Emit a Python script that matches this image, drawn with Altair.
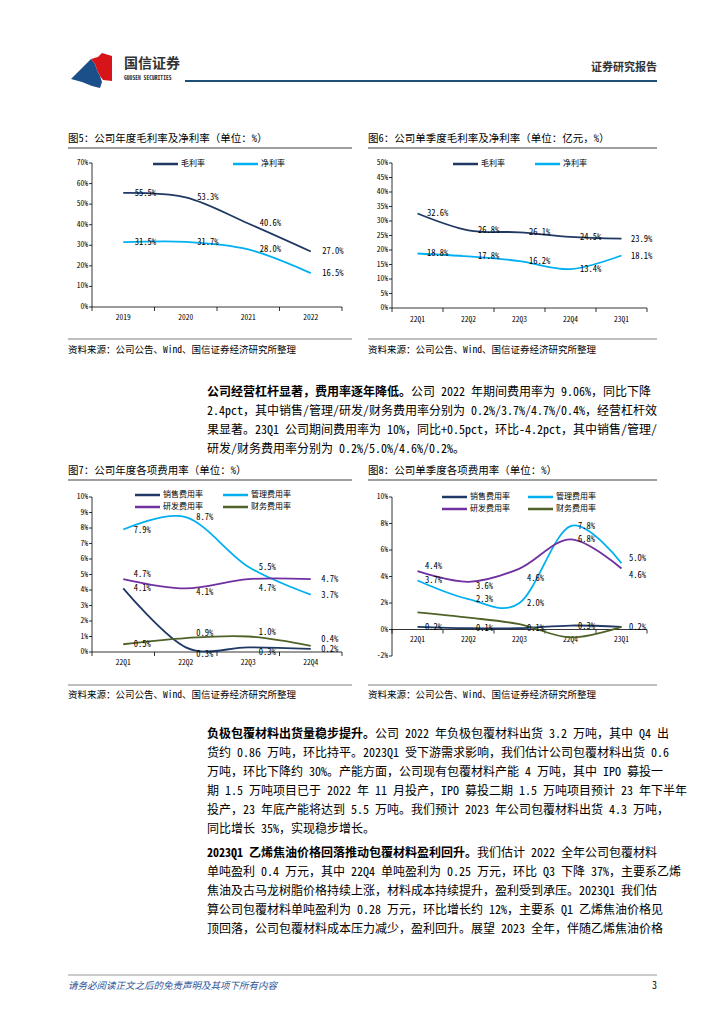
import altair as alt
import pandas as pd

FONT = "Noto Sans Mono CJK SC, Noto Sans CJK SC, sans-serif"
OFF = 8


def P(v):
    return v - OFF


# ---------------- data ----------------
years = ["2019", "2020", "2021", "2022"]
gross_annual = [55.5, 53.3, 40.6, 27.0]
net_annual = [31.5, 31.7, 28.0, 16.5]

quarters6 = ["22Q1", "22Q2", "22Q3", "22Q4", "23Q1"]
gross_q = [32.6, 26.8, 26.1, 24.5, 23.9]
net_q = [18.8, 17.8, 16.2, 13.4, 18.1]

cats7 = ["22Q1", "22Q2", "22Q3", "22Q4"]
sell7 = [4.1, 0.3, 0.3, 0.2]
admin7 = [7.9, 8.7, 5.5, 3.7]
rd7 = [4.7, 4.1, 4.7, 4.7]
fin7 = [0.5, 0.9, 1.0, 0.4]

cats8 = ["22Q1", "22Q2", "22Q3", "22Q4", "23Q1"]
sell8 = [0.2, 0.1, 0.1, 0.3, 0.2]
admin8 = [3.7, 2.3, 2.0, 7.8, 5.0]
rd8 = [4.4, 3.6, 4.6, 6.8, 4.6]
fin8 = [1.3, 0.9, 0.4, -0.6, 0.2]

margin_names = ["毛利率", "净利率"]
margin_colors = ["#1F3864", "#00B0F0"]
fee_names = ["销售费用率", "管理费用率", "研发费用率", "财务费用率"]
fee_colors = ["#1F3864", "#00B0F0", "#7030A0", "#4F6228"]

ticks5 = [0, 10, 20, 30, 40, 50, 60, 70]
ticks6 = [0, 5, 10, 15, 20, 25, 30, 35, 40, 45, 50]
ticks7 = [0, 1, 2, 3, 4, 5, 6, 7, 8, 9, 10]
ticks8 = [-2, 0, 2, 4, 6, 8, 10]

title5 = "图5：公司年度毛利率及净利率（单位：%）"
title6 = "图6：公司单季度毛利率及净利率（单位：亿元，%）"
title7 = "图7：公司年度各项费用率（单位：%）"
title8 = "图8：公司单季度各项费用率（单位：%）"
source = "资料来源：公司公告、Wind、国信证券经济研究所整理"

para1_bold = "公司经营杠杆显著，费用率逐年降低。"
para1 = [
    "公司 2022 年期间费用率为 9.06%，同比下降",
    "2.4pct，其中销售/管理/研发/财务费用率分别为 0.2%/3.7%/4.7%/0.4%，经营杠杆效",
    "果显著。23Q1 公司期间费用率为 10%，同比+0.5pct，环比-4.2pct，其中销售/管理/",
    "研发/财务费用率分别为 0.2%/5.0%/4.6%/0.2%。",
]
para2_bold = "负极包覆材料出货量稳步提升。"
para2 = [
    "公司 2022 年负极包覆材料出货 3.2 万吨，其中 Q4 出",
    "货约 0.86 万吨，环比持平。2023Q1 受下游需求影响，我们估计公司包覆材料出货 0.6",
    "万吨，环比下降约 30%。产能方面，公司现有包覆材料产能 4 万吨，其中 IPO 募投一",
    "期 1.5 万吨项目已于 2022 年 11 月投产，IPO 募投二期 1.5 万吨项目预计 23 年下半年",
    "投产，23 年底产能将达到 5.5 万吨。我们预计 2023 年公司包覆材料出货 4.3 万吨，",
    "同比增长 35%，实现稳步增长。",
]
para3_bold = "2023Q1 乙烯焦油价格回落推动包覆材料盈利回升。"
para3 = [
    "我们估计 2022 全年公司包覆材料",
    "单吨盈利 0.4 万元，其中 22Q4 单吨盈利为 0.25 万元，环比 Q3 下降 37%，主要系乙烯",
    "焦油及古马龙树脂价格持续上涨，材料成本持续提升，盈利受到承压。2023Q1 我们估",
    "算公司包覆材料单吨盈利为 0.28 万元，环比增长约 12%，主要系 Q1 乙烯焦油价格见",
    "顶回落，公司包覆材料成本压力减少，盈利回升。展望 2023 全年，伴随乙烯焦油价格",
]
footer = "请务必阅读正文之后的免责声明及其项下所有内容"

# label placement nudges (layout only, in axis units)
shift7 = {
    "销售费用率": [0, -0.4, -0.3, 0],
    "管理费用率": [0, 0, 0, 0],
    "研发费用率": [0.32, -0.2, -0.55, 0],
    "财务费用率": [0, 0.32, 0.3, 0.45],
}
shift8 = {
    "管理费用率": [0, 0, 0, 0, 0.38],
    "研发费用率": [0.38, -0.3, -0.75, 0, -0.5],
}

dummy = pd.DataFrame({"k": [0]})


def mono_w(s, fs):
    return sum(fs * (0.5 if ord(c) < 128 else 1.0) for c in s)


def txt(s, x, y, size, color="#000000", weight="normal", align="left", style="normal"):
    return alt.Chart(dummy).mark_text(
        text=s, align=align, baseline="middle", fontSize=size, font=FONT,
        color=color, fontWeight=weight, fontStyle=style
    ).encode(x=alt.value(P(x)), y=alt.value(P(y)))


def hrule(x1, x2, y, w, color):
    return alt.Chart(dummy).mark_rule(strokeWidth=w, color=color).encode(
        x=alt.value(P(x1)), x2=alt.value(P(x2)), y=alt.value(P(y))
    )


def figure(cats, series, names, colors, xr, yr, ydom, ticks, xlab_y, dx,
           labelled, legend_pos, axis_x, shifts=None):
    shifts = shifts or {}
    n = len(cats)
    xs = alt.Scale(domain=[-0.5, n - 0.5], range=[P(xr[0]), P(xr[1])], nice=False, zero=False)
    ys = alt.Scale(domain=list(ydom), range=[P(yr[0]), P(yr[1])], nice=False, zero=False)
    rows = []
    for name, vals in zip(names, series):
        sh = shifts.get(name, [0] * len(vals))
        for i, v in enumerate(vals):
            rows.append({"s": name, "i": i, "v": v, "sh": sh[i]})
    df = pd.DataFrame(rows)
    X = alt.X("i:Q", scale=xs, axis=None)
    Y = alt.Y("v:Q", scale=ys, axis=None)
    color = alt.Color("s:N", scale=alt.Scale(domain=names, range=colors), legend=None)

    lines = alt.Chart(df).mark_line(interpolate="cardinal", strokeWidth=1.8).encode(
        x=X, y=Y, color=color, detail="s:N"
    )
    labels = alt.Chart(df).transform_filter(
        alt.FieldOneOfPredicate(field="s", oneOf=labelled)
    ).transform_calculate(
        lab="format(datum.v, '.1f') + '%'", ly="datum.v + datum.sh"
    ).mark_text(dx=dx, fontSize=8.5, font=FONT, color="#000", baseline="middle").encode(
        x=X, y=alt.Y("ly:Q", scale=ys, axis=None), text="lab:N"
    )

    tdf = pd.DataFrame({"t": ticks})
    YT = alt.Y("t:Q", scale=ys, axis=None)
    ytl = alt.Chart(tdf).transform_calculate(lab="datum.t + '%'").mark_text(
        align="right", baseline="middle", fontSize=7.5, font=FONT, color="#000"
    ).encode(x=alt.value(P(axis_x - 4)), y=YT, text="lab:N")
    ytk = alt.Chart(tdf).mark_rule(color="#000", strokeWidth=0.8).encode(
        x=alt.value(P(axis_x - 3)), x2=alt.value(P(axis_x)), y=YT
    )
    yline = alt.Chart(tdf).mark_rule(color="#000", strokeWidth=0.8).encode(
        x=alt.value(P(axis_x)), y=alt.Y("min(t):Q", scale=ys, axis=None), y2="max(t):Q"
    )

    y0pix = yr[0] + (0 - ydom[0]) / (ydom[1] - ydom[0]) * (yr[1] - yr[0])
    bdf = pd.DataFrame({"b": [k - 0.5 for k in range(n + 1)]})
    xline = alt.Chart(bdf).transform_calculate(z="0").mark_rule(color="#000", strokeWidth=0.8).encode(
        x=alt.X("min(b):Q", scale=xs, axis=None), x2="max(b):Q",
        y=alt.Y("z:Q", scale=ys, axis=None)
    )
    xtk = alt.Chart(bdf).transform_calculate(z="0").mark_rule(color="#000", strokeWidth=0.8).encode(
        x=alt.X("b:Q", scale=xs, axis=None),
        y=alt.Y("z:Q", scale=ys, axis=None), y2=alt.value(P(y0pix + 4))
    )
    cdf = pd.DataFrame({"i": list(range(n)), "cat": cats})
    xtl = alt.Chart(cdf).mark_text(baseline="middle", fontSize=7.5, font=FONT, color="#000").encode(
        x=alt.X("i:Q", scale=xs, axis=None), y=alt.value(P(xlab_y)), text="cat:N"
    )

    parts = [yline, ytk, ytl, xline, xtk, xtl, lines, labels]
    for name, col, (lx, ly) in zip(names, colors, legend_pos):
        parts.append(hrule(lx, lx + 25, ly, 2.5, col))
        parts.append(txt(name, lx + 28, ly, 8))
    return alt.layer(*parts)


layers = []

# ---------------- header ----------------
def logo_path(pts, cx, cy, half):
    s = " ".join(
        ("M" if k == 0 else "L") + f"{(x - cx) / half:.3f},{(y - cy) / half:.3f}"
        for k, (x, y) in enumerate(pts)
    )
    return s + " Z"


blue_pts = [(71, 79), (91, 59), (95, 64), (97, 70), (100, 76), (102, 82), (100, 88), (92, 86), (82, 82)]
red_pts = [(91, 59), (98, 57), (102, 53), (112, 56), (112, 81), (103, 80), (100, 76), (97, 70), (95, 64)]
for pts, col in [(blue_pts, "#1B4F8A"), (red_pts, "#D7141A")]:
    layers.append(
        alt.Chart(dummy).mark_point(
            shape=logo_path(pts, 91, 70, 22), filled=True, fill=col, strokeWidth=0,
            size=(2 * 22) ** 2, opacity=1
        ).encode(x=alt.value(P(91)), y=alt.value(P(70)))
    )
layers.append(txt("国信证券", 124, 64, 14, color="#333333", weight="bold"))
layers.append(txt("GUOSEN SECURITIES", 124, 78, 5.6, color="#333333", weight="bold"))
layers.append(txt("证券研究报告", 657, 68, 11, color="#333333", weight="bold", align="right"))
layers.append(hrule(185, 657, 81, 2, "#1F4E79"))

# ---------------- figure frames ----------------
for (x1, x2, tx, ttl, ty, r1, r2, sy) in [
    (68, 352, 68, title5, 139, 148, 339, 350),
    (368, 657, 368, title6, 139, 148, 339, 350),
    (68, 352, 68, title7, 471, 480, 685, 695),
    (368, 657, 368, title8, 471, 480, 685, 695),
]:
    layers.append(txt(ttl, tx, ty, 10.5))
    layers.append(hrule(x1, x2, r1, 1.6, "#7F7F7F"))
    layers.append(hrule(x1, x2, r2, 1, "#7F7F7F"))
    layers.append(txt(source, tx, sy, 9.5))

# ---------------- figures ----------------
layers.append(figure(years, [gross_annual, net_annual], margin_names, margin_colors,
                     (92, 342), (307, 163), (0, 70), ticks5, 318, 22, margin_names,
                     [(153, 164), (233, 164)], 92))
layers.append(figure(quarters6, [gross_q, net_q], margin_names, margin_colors,
                     (392, 647), (308, 163), (0, 50), ticks6, 320, 20, margin_names,
                     [(453, 164), (535, 164)], 392))
layers.append(figure(cats7, [sell7, admin7, rd7, fin7], fee_names, fee_colors,
                     (92, 342), (652, 497), (0, 10), ticks7, 663, 19, fee_names,
                     [(135, 495), (223, 495), (135, 507), (223, 507)], 92, shift7))
layers.append(figure(cats8, [sell8, admin8, rd8, fin8], fee_names, fee_colors,
                     (392, 647), (656, 497), (-2, 10), ticks8, 640, 16, fee_names[:3],
                     [(442, 497), (528, 497), (442, 509), (528, 509)], 392, shift8))

# ---------------- paragraphs ----------------
FS = 12
LH = 19
TX = 207
for bold, lines, y0 in [(para1_bold, para1, 392), (para2_bold, para2, 734), (para3_bold, para3, 853)]:
    layers.append(txt(bold, TX, y0, FS, weight="bold"))
    layers.append(txt(lines[0], TX + mono_w(bold, FS), y0, FS))
    for k, line in enumerate(lines[1:], start=1):
        layers.append(txt(line, TX, y0 + k * LH, FS))

# ---------------- footer ----------------
layers.append(hrule(68, 657, 975, 0.8, "#7F7F7F"))
layers.append(txt(footer, 68, 986, 9.5, color="#2F5597", style="italic"))
layers.append(txt("3", 657, 986, 10, align="right"))

chart = alt.layer(*layers).properties(
    width=708, height=1008, padding=0,
    autosize=alt.AutoSizeParams(type="none"),
).resolve_scale(x="independent", y="independent", color="independent").configure_view(stroke=None)

chart.save("out.html", embed_options={"renderer": "svg", "actions": False})
